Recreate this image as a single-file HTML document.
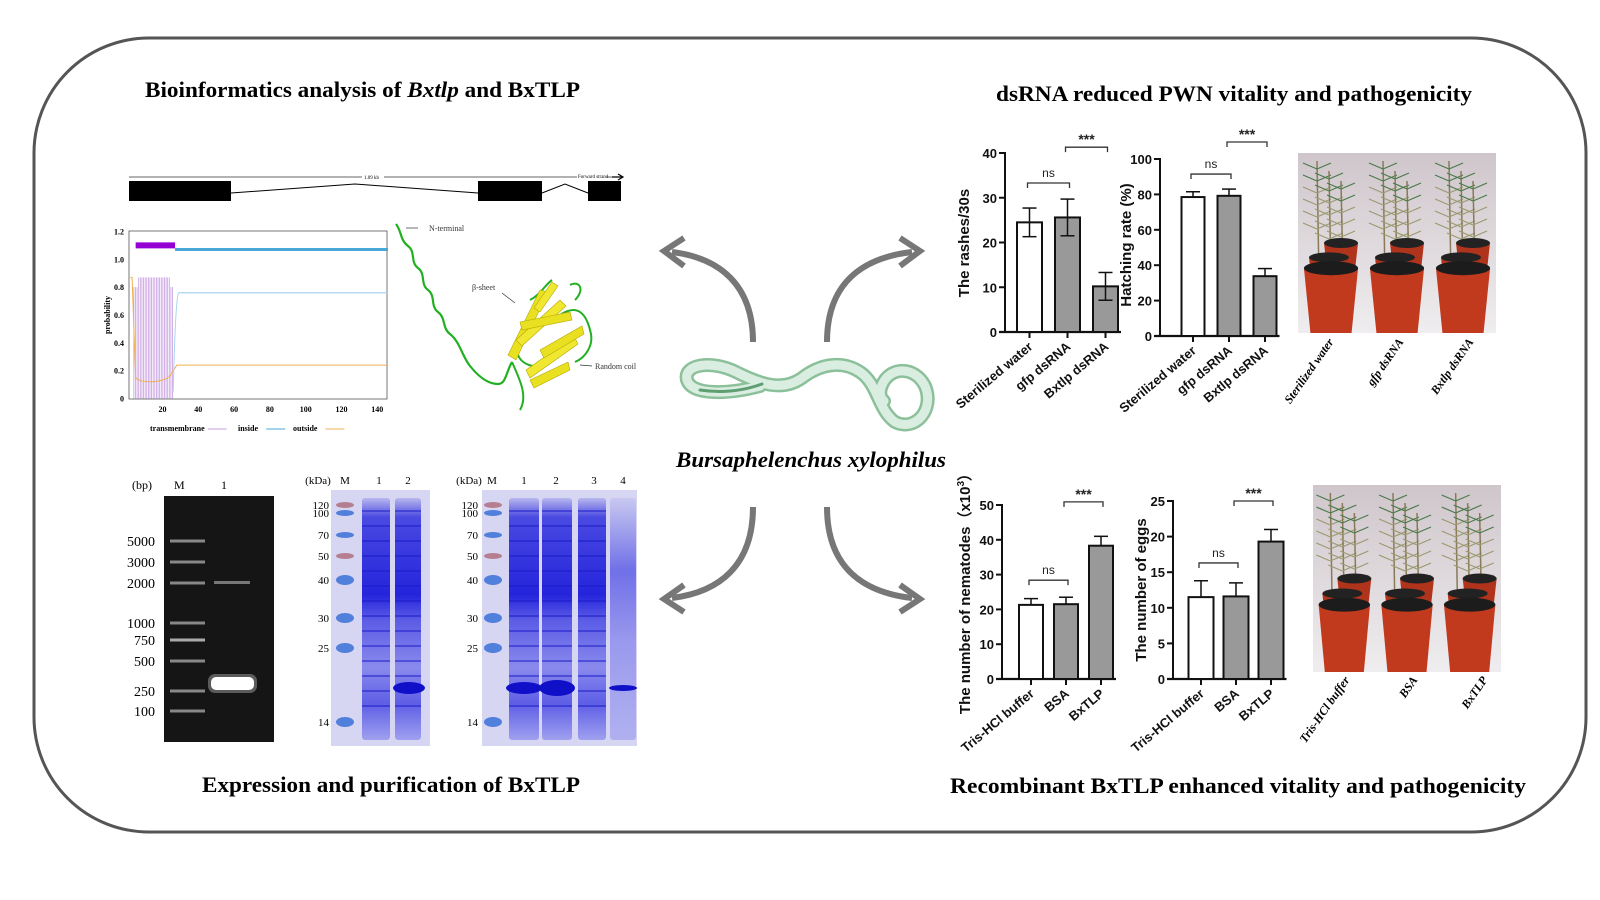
<!DOCTYPE html>
<html><head><meta charset="utf-8"><title>BxTLP graphical abstract</title>
<style>
html,body{margin:0;padding:0;background:#fff;}
svg{display:block;}
.ser{font-family:"Liberation Serif",serif;}
.san{font-family:"Liberation Sans",sans-serif;}
</style></head>
<body>
<svg id="root" width="1600" height="900" viewBox="0 0 1600 900" xmlns="http://www.w3.org/2000/svg">
<defs>
  <linearGradient id="laneG" x1="0" y1="0" x2="0" y2="1">
    <stop offset="0" stop-color="#b8b8ee"/><stop offset="0.08" stop-color="#4a4ae2"/>
    <stop offset="0.4" stop-color="#2424dc"/><stop offset="0.5" stop-color="#5a5ae6"/>
    <stop offset="0.7" stop-color="#8a8aec"/><stop offset="0.85" stop-color="#5e5ee6"/>
    <stop offset="1" stop-color="#a0a0f0"/>
  </linearGradient>
  <linearGradient id="laneL" x1="0" y1="0" x2="0" y2="1">
    <stop offset="0" stop-color="#c8c8f0"/><stop offset="0.3" stop-color="#7070e8"/>
    <stop offset="0.6" stop-color="#9a9aee"/><stop offset="1" stop-color="#b0b0f0"/>
  </linearGradient>
  <linearGradient id="photoBg" x1="0" y1="0" x2="0" y2="1">
    <stop offset="0" stop-color="#cfc6cb"/><stop offset="0.6" stop-color="#e2dde0"/><stop offset="1" stop-color="#efedef"/>
  </linearGradient>
</defs>

<rect x="34" y="38" width="1552" height="794" rx="115" ry="115" fill="#fff" stroke="#555" stroke-width="3"/>

<!-- Titles -->
<text class="ser" x="145" y="97" font-size="22" font-weight="bold" textLength="435" lengthAdjust="spacingAndGlyphs">Bioinformatics analysis of <tspan font-style="italic">Bxtlp</tspan> and BxTLP</text>
<text class="ser" x="996" y="101" font-size="22" font-weight="bold" textLength="476" lengthAdjust="spacingAndGlyphs">dsRNA reduced PWN vitality and pathogenicity</text>
<text class="ser" x="202" y="792" font-size="22" font-weight="bold" textLength="378" lengthAdjust="spacingAndGlyphs">Expression and purification of BxTLP</text>
<text class="ser" x="950" y="793" font-size="22" font-weight="bold" textLength="576" lengthAdjust="spacingAndGlyphs">Recombinant  BxTLP enhanced vitality and pathogenicity</text>

<!-- Gene track -->
<g>
  <line x1="129" y1="177" x2="618" y2="177" stroke="#333" stroke-width="0.8"/>
  <rect x="362" y="173" width="22" height="7" fill="#fff"/>
  <text class="ser" x="364" y="179" font-size="5">1.09 kb</text>
  <rect x="577" y="172" width="30" height="7" fill="#fff"/>
  <text class="ser" x="578" y="178" font-size="5">Forward strand</text>
  <path d="M612 177 L622 177 M618 174 L623 177 L618 180" stroke="#000" fill="none" stroke-width="1.2"/>
  <rect x="129" y="181" width="102" height="20" fill="#000"/>
  <rect x="478" y="181" width="64" height="20" fill="#000"/>
  <rect x="588" y="181" width="33" height="20" fill="#000"/>
  <polyline points="231,193 355,184 478,193" fill="none" stroke="#000" stroke-width="1"/>
  <polyline points="542,193 565,184 588,193" fill="none" stroke="#000" stroke-width="1"/>
</g>

<!-- TMHMM plot -->
<g id="tm"></g>

<!-- Protein structure -->
<g>
  <path d="M396 224 C402 232 400 240 408 246 C416 252 410 262 418 268 C426 274 420 284 428 290 C436 296 430 306 438 312 C446 318 442 328 450 334 C460 342 462 356 470 366 C478 376 488 384 498 384 C506 384 506 372 512 362" fill="none" stroke="#22b022" stroke-width="2.2"/>
  <path d="M512 362 C520 380 528 396 520 410 M530 300 C540 295 545 285 552 280 M560 315 C575 305 585 310 590 330 C595 345 585 358 575 362 M520 340 C510 360 530 370 545 365 M575 300 C585 290 580 280 570 285" fill="none" stroke="#22b022" stroke-width="2"/>
  <polygon points="508,355 540,290 548,292 516,360" fill="#e8e020" stroke="#b8a800" stroke-width="0.6"/>
  <polygon points="516,340 560,300 566,306 522,346" fill="#f0e830" stroke="#b8a800" stroke-width="0.6"/>
  <polygon points="520,322 570,312 572,320 522,330" fill="#e8e020" stroke="#b8a800" stroke-width="0.6"/>
  <polygon points="526,370 574,336 578,344 530,378" fill="#f0e830" stroke="#b8a800" stroke-width="0.6"/>
  <polygon points="530,380 568,362 570,370 534,388" fill="#e8e020" stroke="#b8a800" stroke-width="0.6"/>
  <polygon points="534,308 552,282 558,286 540,312" fill="#f0e830" stroke="#b8a800" stroke-width="0.6"/>
  <polygon points="540,350 582,326 584,334 544,358" fill="#e8e020" stroke="#b8a800" stroke-width="0.6"/>
  <line x1="418" y1="228" x2="406" y2="228" stroke="#333" stroke-width="0.7"/>
  <text class="ser" x="429" y="231" font-size="8" fill="#333">N-terminal</text>
  <text class="ser" x="472" y="290" font-size="8" fill="#333">β-sheet</text>
  <line x1="502" y1="293" x2="515" y2="303" stroke="#333" stroke-width="0.7"/>
  <text class="ser" x="595" y="369" font-size="8" fill="#333">Random coil</text>
  <line x1="592" y1="366" x2="580" y2="365" stroke="#333" stroke-width="0.7"/>
</g>

<!-- Arrows -->
<g fill="none" stroke="#777" stroke-width="6">
  <path d="M753 342 C753 285 720 258 672 252" />
  <path d="M827 342 C827 285 860 258 912 252" />
  <path d="M753 507 C753 565 720 592 672 598" />
  <path d="M827 507 C827 565 860 592 912 598" />
  <path d="M684 238 L664 251 L684 266" stroke-linejoin="miter"/>
  <path d="M900 238 L920 251 L900 266" />
  <path d="M684 585 L664 599 L684 612" />
  <path d="M900 585 L920 599 L900 612" />
</g>

<!-- Worm -->
<g>
  <path id="wormPath" d="M760 386 C730 394 692 396 687 380 C683 364 712 360 736 372 C760 384 782 392 802 378 C820 364 842 360 860 372 C878 384 878 410 895 422 C915 432 935 410 925 386 C915 366 890 366 882 385 C879 392 880 398 884 401" fill="none" stroke="#8cc09a" stroke-width="14" stroke-linecap="round"/>
  <path d="M760 386 C730 394 692 396 687 380 C683 364 712 360 736 372 C760 384 782 392 802 378 C820 364 842 360 860 372 C878 384 878 410 895 422 C915 432 935 410 925 386 C915 366 890 366 882 385 C879 392 880 398 884 401" fill="none" stroke="#d9ede0" stroke-width="9" stroke-linecap="round"/>
  <path d="M700 390 C720 393 740 392 762 384" fill="none" stroke="#5e9e70" stroke-width="3" stroke-linecap="round"/>
  <text class="ser" x="676" y="467" font-size="22" font-weight="bold" font-style="italic" textLength="270" lengthAdjust="spacingAndGlyphs">Bursaphelenchus xylophilus</text>
</g>

<!-- Agarose gel -->
<g>
  <rect x="164" y="496" width="110" height="246" fill="#151515"/>
  <g id="ladder"></g>
  <rect x="211" y="677" width="43" height="13" rx="5" fill="#fff"/>
  <rect x="208" y="674" width="49" height="19" rx="7" fill="#fff" opacity="0.3"/>
  <rect x="214" y="581" width="36" height="3" fill="#777"/>
  <text class="ser" x="132" y="489" font-size="12">(bp)</text>
  <text class="ser" x="174" y="489" font-size="12">M</text>
  <text class="ser" x="221" y="489" font-size="12">1</text>
</g>

<!-- SDS gels -->
<g id="sds"></g>

<!-- Charts -->
<g id="charts"></g>

<!-- Photos -->
<g id="photos"></g>
</svg>

<script>
// ===== Bar chart data =====
const cats1 = ["Sterilized water", "gfp dsRNA", "Bxtlp dsRNA"];
const vals1 = [24.5, 25.6, 10.2];
const errs1 = [3.2, 4.1, 3.1];
const ticks1 = [0, 10, 20, 30, 40];

const cats2 = ["Sterilized water", "gfp dsRNA", "Bxtlp dsRNA"];
const vals2 = [78.5, 79.2, 33.8];
const errs2 = [3.0, 3.8, 4.3];
const ticks2 = [0, 20, 40, 60, 80, 100];

const cats3 = ["Tris-HCl buffer", "BSA", "BxTLP"];
const vals3 = [21.3, 21.5, 38.3];
const errs3 = [1.8, 2.0, 2.7];
const ticks3 = [0, 10, 20, 30, 40, 50];

const cats4 = ["Tris-HCl buffer", "BSA", "BxTLP"];
const vals4 = [11.5, 11.6, 19.3];
const errs4 = [2.3, 1.9, 1.7];
const ticks4 = [0, 5, 10, 15, 20, 25];

const sig1 = [33.3, 41.3];
const sig2 = [91.5, 109.6];
const sig3 = [28.4, 50.9];
const sig4 = [16.3, 25.0];

const NS = "http://www.w3.org/2000/svg";
function mk(tag, attrs, parent) {
  const e = document.createElementNS(NS, tag);
  for (const k in attrs) e.setAttribute(k, attrs[k]);
  if (parent) parent.appendChild(e);
  return e;
}

function drawChart(cfg, cats, vals, errs, ticks, sig, showLow, name) {
  const root = document.getElementById('charts');
  const g = mk('g', {}, root);
  
  
  const max = ticks[ticks.length - 1];
  const y = v => cfg.y0 - (v / max) * (cfg.y0 - cfg.yTop);
  const xc = i => cfg.ax + cfg.off + i * cfg.step;
  const xEnd = xc(cats.length - 1) + cfg.w / 2 + 3;
  mk('line', {x1: cfg.ax, y1: y(max) - 1, x2: cfg.ax, y2: cfg.y0 + 1, stroke: '#111', 'stroke-width': 2}, g);
  mk('line', {x1: cfg.ax - 6, y1: cfg.y0, x2: xEnd, y2: cfg.y0, stroke: '#111', 'stroke-width': 2.2}, g);
  ticks.forEach(t => {
    mk('line', {x1: cfg.ax - 6, y1: y(t), x2: cfg.ax, y2: y(t), stroke: '#111', 'stroke-width': 2}, g);
    const tx = mk('text', {x: cfg.ax - 8, y: y(t) + 5, 'font-size': 13, 'font-weight': 'bold', 'text-anchor': 'end', class: 'san', fill: '#111'}, g);
    tx.textContent = t;
    
    
  });
  vals.forEach((v, i) => {
    const cx = xc(i);
    const b = mk('rect', {x: cx - cfg.w / 2, y: y(v), width: cfg.w, height: cfg.y0 - y(v), fill: i === 0 ? '#fff' : '#999', stroke: '#111', 'stroke-width': 2}, g);
    
    
    const lo = showLow ? v - errs[i] : v;
    mk('line', {x1: cx, y1: y(v + errs[i]), x2: cx, y2: y(lo), stroke: '#111', 'stroke-width': 1.5}, g);
    mk('line', {x1: cx - 7, y1: y(v + errs[i]), x2: cx + 7, y2: y(v + errs[i]), stroke: '#111', 'stroke-width': 1.5}, g);
    if (showLow) mk('line', {x1: cx - 7, y1: y(lo), x2: cx + 7, y2: y(lo), stroke: '#111', 'stroke-width': 1.5}, g);
    mk('line', {x1: cx, y1: cfg.y0, x2: cx, y2: cfg.y0 + 6, stroke: '#111', 'stroke-width': 2}, g);
    const lab = mk('text', {x: cx + 4, y: cfg.y0 + 16, 'font-size': 13, 'font-weight': 'bold', 'text-anchor': 'end', class: 'san', fill: '#111', transform: `rotate(-40 ${cx + 4} ${cfg.y0 + 16})`}, g);
    lab.textContent = cats[i];
    
    
  });
  const labels = ['ns', '***'];
  sig.forEach((s, k) => {
    const x1 = xc(k) - 2, x2 = xc(k + 1) + 2, yy = y(s);
    mk('path', {d: `M${x1} ${yy + 5} L${x1} ${yy} L${x2} ${yy} L${x2} ${yy + 5}`, fill: 'none', stroke: '#333', 'stroke-width': 1.3}, g);
    const t = mk('text', {x: (x1 + x2) / 2, y: yy - (k ? 3 : 6), 'font-size': k ? 14 : 12, 'font-weight': k ? 'bold' : 'normal', 'text-anchor': 'middle', class: 'san', fill: '#222'}, g);
    t.textContent = labels[k];
    
    
  });
  const at = mk('text', {x: cfg.tx, y: cfg.ty, 'font-size': 15, 'font-weight': 'bold', 'text-anchor': 'middle', class: 'san', fill: '#111', transform: `rotate(-90 ${cfg.tx} ${cfg.ty})`}, g);
  at.innerHTML = cfg.title;
  
  
}

drawChart({ax: 1005, y0: 332, yTop: 153, off: 24.5, step: 38, w: 25, tx: 969, ty: 243, title: 'The rashes/30s'}, cats1, vals1, errs1, ticks1, sig1, true, 'chart-rashes');
drawChart({ax: 1160, y0: 336, yTop: 159, off: 33, step: 36, w: 23, tx: 1131, ty: 245, title: 'Hatching rate (%)'}, cats2, vals2, errs2, ticks2, sig2, false, 'chart-hatching');
drawChart({ax: 1002, y0: 679, yTop: 505, off: 29, step: 35, w: 24, tx: 970, ty: 590, title: 'The number of nematodes（x10<tspan dy="-6" font-size="10">3</tspan><tspan dy="6">）</tspan>'}, cats3, vals3, errs3, ticks3, sig3, false, 'chart-nematodes');
drawChart({ax: 1173, y0: 679, yTop: 501, off: 28, step: 35, w: 25, tx: 1146, ty: 590, title: 'The number of eggs'}, cats4, vals4, errs4, ticks4, sig4, false, 'chart-eggs');

// ===== Transmembrane plot =====
(function(){
  const g = document.getElementById('tm');
  const X = v => 126.7 + v * 1.79, Y = v => 398.6 - v * 139.3;
  mk('rect', {x: 129, y: 231, width: 258, height: 168, fill: 'none', stroke: '#555', 'stroke-width': 0.8}, g);
  [0,0.2,0.4,0.6,0.8,1.0,1.2].forEach(t => {
    const tt = mk('text', {x: 124, y: Y(t) + 3, 'font-size': 8, 'font-weight': 'bold', 'text-anchor': 'end', class: 'ser'}, g);
    tt.textContent = t === 0 ? '0' : t.toFixed(1);
  });
  [20,40,60,80,100,120,140].forEach(t => {
    const tt = mk('text', {x: X(t), y: 412, 'font-size': 8, 'font-weight': 'bold', 'text-anchor': 'middle', class: 'ser'}, g);
    tt.textContent = t;
  });
  for (let i = 4; i <= 26; i += 0.9) mk('line', {x1: X(i), y1: Y(0), x2: X(i), y2: Y(i < 6 || i > 24 ? 0.8 : 0.87), stroke: '#c79ee0', 'stroke-width': 0.8}, g);
  mk('rect', {x: X(5), y: Y(1.1) - 3, width: X(27) - X(5), height: 6, fill: '#9400d3'}, g);
  mk('line', {x1: X(27), y1: Y(1.07), x2: X(146), y2: Y(1.07), stroke: '#4aa8d8', 'stroke-width': 3}, g);
  mk('line', {x1: X(29), y1: Y(0.76), x2: X(146), y2: Y(0.76), stroke: '#a8d4f0', 'stroke-width': 1.2}, g);
  mk('path', {d: `M${X(2)} ${Y(0.87)} L${X(3)} ${Y(0.87)} L${X(5)} ${Y(0.15)} C${X(7)} ${Y(0.11)} ${X(20)} ${Y(0.11)} ${X(24)} ${Y(0.16)} L${X(28)} ${Y(0.24)} L${X(146)} ${Y(0.24)}`, fill: 'none', stroke: '#f0b050', 'stroke-width': 1}, g);
  mk('path', {d: `M${X(26)} ${Y(0.05)} C${X(27)} ${Y(0.6)} ${X(28)} ${Y(0.74)} ${X(29)} ${Y(0.76)}`, fill: 'none', stroke: '#a8d4f0', 'stroke-width': 1}, g);
  const yl = mk('text', {x: 110, y: 315, 'font-size': 8, 'font-weight': 'bold', 'text-anchor': 'middle', class: 'ser', transform: 'rotate(-90 110 315)'}, g);
  yl.textContent = 'probability';
  [['transmembrane',150,'#c79ee0'],['inside',238,'#4aa8d8'],['outside',293,'#f0b050']].forEach(l => {
    const t = mk('text', {x: l[1], y: 431, 'font-size': 8, 'font-weight': 'bold', class: 'ser'}, g);
    t.textContent = l[0];
    mk('line', {x1: l[1] + (l[0].length * 4.2) + 3, y1: 429, x2: l[1] + l[0].length * 4.2 + 22, y2: 429, stroke: l[2], 'stroke-width': 1}, g);
  });
})();

// ===== Agarose ladder =====
(function(){
  const g = document.getElementById('ladder');
  const sizes = [5000, 3000, 2000, 1000, 750, 500, 250, 100];
  const ys = [541, 562, 583, 623, 640, 661, 691, 711];
  sizes.forEach((s, i) => {
    mk('rect', {x: 170, y: ys[i] - 1.5, width: 35, height: 3, fill: i === 4 ? '#aaa' : '#888'}, g);
    const t = mk('text', {x: 155, y: ys[i] + 5, 'font-size': 14, 'text-anchor': 'end', class: 'ser'}, document.getElementById('root'));
    t.textContent = s;
  });
})();

// ===== SDS gels =====
(function(){
  const g = document.getElementById('sds');
  function gel(x, w, y, h, markerX, lanes, bigBands, labelsX, labels, kdaY, topLabels) {
    mk('rect', {x: x, y: y, width: w, height: h, fill: '#d6d6f2'}, g);
    const mY = [505, 513, 535, 556, 580, 618, 648, 722];
    mY.forEach((yy, i) => mk('ellipse', {cx: markerX, cy: yy, rx: 9, ry: i > 3 ? 5 : 3, fill: (i === 0 || i === 3) ? '#b07080' : '#3a70d8', opacity: 0.85}, g));
    lanes.forEach(l => {
      mk('rect', {x: l[0] - l[1] / 2, y: y + 8, width: l[1], height: h - 14, fill: l[2] ? 'url(#laneG)' : 'url(#laneL)', rx: 3}, g);
      if (l[2]) for (let k = 0; k < 14; k++) mk('rect', {x: l[0] - l[1] / 2, y: y + 20 + k * 15, width: l[1], height: 2, fill: '#1a1ac8', opacity: 0.5}, g);
    });
    bigBands.forEach(b => mk('ellipse', {cx: b[0], cy: 688, rx: b[1], ry: b[2], fill: '#1010c8'}, g));
    labels.forEach((s, i) => {
      const t = mk('text', {x: labelsX, y: mY[i] + 4, 'font-size': 11, 'text-anchor': 'end', class: 'ser'}, g);
      t.textContent = s;
    });
    topLabels.forEach(tl => {
      const t = mk('text', {x: tl[1], y: kdaY, 'font-size': 11, 'text-anchor': 'middle', class: 'ser'}, g);
      t.textContent = tl[0];
    });
  }
  gel(331, 99, 490, 256, 345, [[376, 28, true], [408, 26, true]], [[409, 16, 6]], 329,
      ['120','100','70','50','40','30','25','14'], 484, [['(kDa)', 318], ['M', 345], ['1', 379], ['2', 408]]);
  gel(482, 155, 490, 256, 493, [[524, 30, true], [557, 30, true], [592, 28, true], [623, 26, false]], [[524, 18, 6], [557, 18, 8], [623, 14, 3]], 478,
      ['120','100','70','50','40','30','25','14'], 484, [['(kDa)', 469], ['M', 492], ['1', 524], ['2', 556], ['3', 594], ['4', 623]]);
})();

// ===== Photos =====
(function(){
  const g = document.getElementById('photos');
  function photo(x, y, w, h, labels, lx, ly) {
    mk('rect', {x: x, y: y, width: w, height: h, fill: 'url(#photoBg)'}, g);
    const gw = w / 3;
    for (let k = 0; k < 3; k++) {
      const cx = x + gw * k + gw / 2;
      for (let t = 0; t < 3; t++) {
        const tx = cx - 14 + t * 12, ty = y + 8 + t * 10;
        mk('line', {x1: tx, y1: ty, x2: tx + 2, y2: y + h * 0.7, stroke: '#8a7a5a', 'stroke-width': 1.5}, g);
        for (let n = 0; n < 6; n++) {
          const yy = ty + 8 + n * 12;
          mk('path', {d: `M${tx} ${yy} l-14 -6 M${tx} ${yy} l14 -6`, stroke: n < 2 ? '#4a7a4a' : '#9a9a70', 'stroke-width': 1.2, fill: 'none'}, g);
        }
      }
      [[cx + 10, y + h * 0.5, 34], [cx - 2, y + h * 0.58, 40]].forEach(p => {
        mk('path', {d: `M${p[0] - p[2] / 2} ${p[1]} L${p[0] + p[2] / 2} ${p[1]} L${p[0] + p[2] * 0.4} ${p[1] + p[2] * 0.9} L${p[0] - p[2] * 0.4} ${p[1] + p[2] * 0.9} Z`, fill: '#b0341c'}, g);
        mk('ellipse', {cx: p[0], cy: p[1], rx: p[2] / 2, ry: 5, fill: '#222'}, g);
      });
      const fy = y + h * 0.64, fw = gw * 0.82;
      mk('path', {d: `M${cx - fw / 2} ${fy} L${cx + fw / 2} ${fy} L${cx + fw * 0.38} ${y + h} L${cx - fw * 0.38} ${y + h} Z`, fill: '#c23a1e'}, g);
      mk('ellipse', {cx: cx, cy: fy, rx: fw / 2, ry: 7, fill: '#1c1c1c'}, g);
    }
    labels.forEach((s, i) => {
      const px = lx[i], py = ly[i];
      const t = mk('text', {x: px, y: py, 'font-size': 12, 'font-style': 'italic', 'font-weight': 'bold', 'text-anchor': 'end', class: 'ser', transform: `rotate(-55 ${px} ${py})`}, g);
      t.textContent = s;
      
      
    });
  }
  photo(1298, 153, 198, 180, ['Sterilized water', 'gfp dsRNA', 'Bxtlp dsRNA'], [1334, 1404, 1474], [342, 342, 342]);
  photo(1313, 485, 188, 187, ['Tris-HCl buffer', 'BSA', 'BxTLP'], [1350, 1418, 1488], [680, 680, 680]);
})();
</script>
</body></html>
